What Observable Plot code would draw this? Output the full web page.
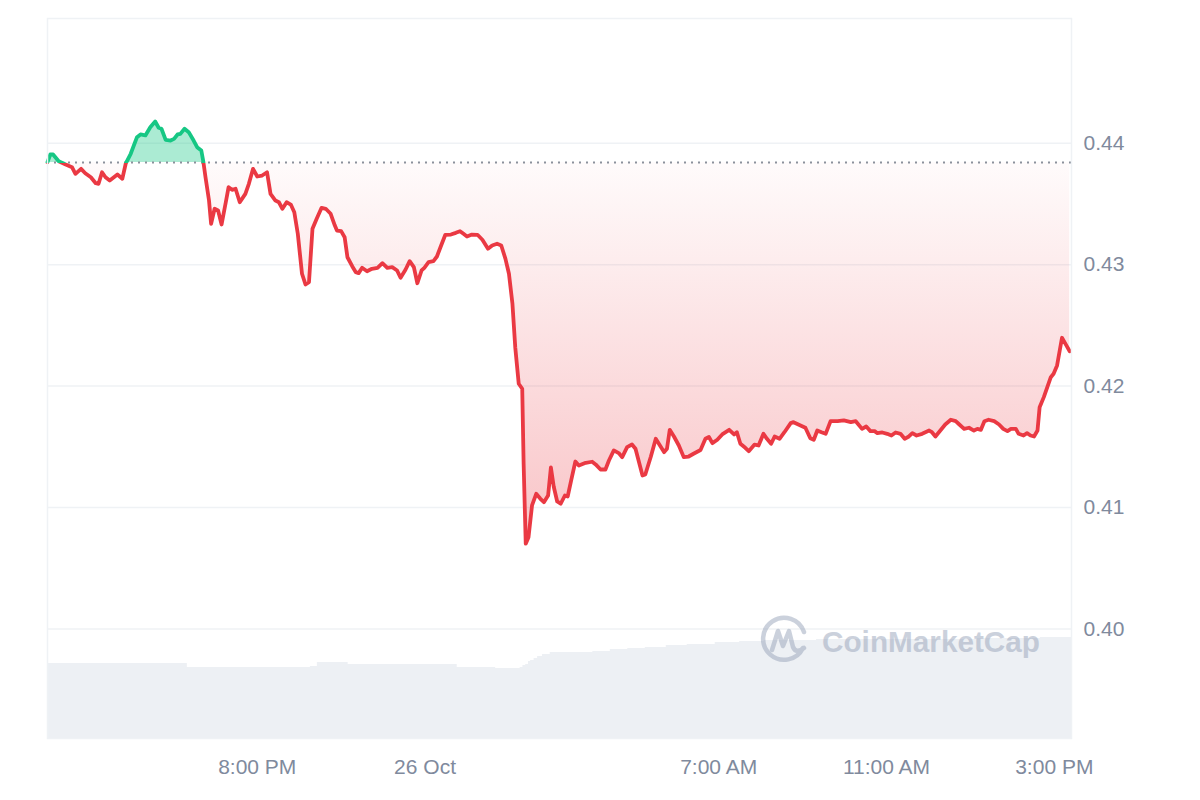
<!DOCTYPE html>
<html>
<head>
<meta charset="utf-8">
<script src="https://cdn.jsdelivr.net/npm/d3@7"></script>
<script src="https://cdn.jsdelivr.net/npm/@observablehq/plot@0.6"></script>
<style>
  html, body { margin: 0; padding: 0; background: #ffffff; }
  #wrap { position: relative; width: 1200px; height: 800px; overflow: hidden; }
  #chart { position: absolute; left: 0; top: 0; }
  #wm { position: absolute; left: 0; top: 0; pointer-events: none; }
</style>
</head>
<body>
<div id="wrap">
  <div id="chart"></div>
  <svg id="wm" width="1200" height="800" xmlns="http://www.w3.org/2000/svg">
    <g opacity="0.5" fill="none" stroke="#98a4ba" stroke-width="4.5" stroke-linecap="round" stroke-linejoin="round">
      <path d="M 803 648 A 21 21 0 1 1 804 632"/>
      <path d="M 772 650 L 778 631 L 783 646 L 789 631 L 793 647 Q 796 654 804 648"/>
    </g>
    <text x="822" y="641" dominant-baseline="central" textLength="218" lengthAdjust="spacingAndGlyphs"
          font-family="'Liberation Sans', Arial, sans-serif" font-weight="700" font-size="30"
          fill="#98a4ba" opacity="0.5">CoinMarketCap</text>
  </svg>
</div>
<script>
// ---- Data (minutes after 3:00 PM, 25 Oct; price in USD) ----
const priceSeries = [
  [0,0.43844],[4,0.43907],[8,0.43907],[16,0.43852],[26,0.43825],[35,0.43803],[40,0.43748],[48,0.43789],[54,0.43753],[62,0.43720],
  [69,0.43671],[73,0.43666],[78,0.43761],[83,0.43720],[89,0.43693],[100,0.43742],[107,0.43707],[112,0.43835],[119,0.43913],
  [128,0.44050],[133,0.44072],[140,0.44064],[147,0.44132],[154,0.44179],[159,0.44127],[163,0.44119],[169,0.44028],[176,0.44022],
  [181,0.44036],[186,0.44072],[190,0.44077],[196,0.44119],[202,0.44091],[209,0.44022],[214,0.43967],[220,0.43940],[223,0.43844],
  [226,0.43720],[231,0.43528],[234,0.43336],[239,0.43460],[244,0.43446],[249,0.43331],[255,0.43514],[259,0.43638],[264,0.43616],
  [269,0.43625],[275,0.43514],[283,0.43583],[288,0.43666],[294,0.43789],[300,0.43726],[307,0.43734],[314,0.43761],[319,0.43583],
  [326,0.43528],[331,0.43514],[336,0.43460],[342,0.43514],[348,0.43495],[353,0.43432],[358,0.43254],[364,0.42925],[369,0.42837],
  [374,0.42856],[379,0.43295],[385,0.43378],[392,0.43468],[398,0.43460],[405,0.43419],[411,0.43322],[414,0.43281],[420,0.43276],
  [425,0.43226],[429,0.43061],[436,0.42985],[441,0.42938],[445,0.42930],[450,0.42974],[457,0.42946],[464,0.42966],[472,0.42974],
  [479,0.43012],[486,0.42974],[493,0.42979],[500,0.42952],[505,0.42892],[512,0.42958],[518,0.43029],[524,0.42979],[529,0.42847],
  [535,0.42952],[539,0.42974],[545,0.43020],[552,0.43029],[557,0.43067],[563,0.43158],[569,0.43246],[577,0.43248],[584,0.43262],
  [590,0.43276],[595,0.43254],[600,0.43232],[607,0.43248],[615,0.43246],[622,0.43205],[630,0.43131],[636,0.43158],[643,0.43172],
  [649,0.43158],[655,0.43048],[660,0.42925],[665,0.42678],[669,0.42320],[674,0.42019],[679,0.41978],[681,0.41360],[684,0.40702],
  [688,0.40756],[693,0.41017],[699,0.41113],[705,0.41072],[710,0.41044],[716,0.41099],[720,0.41330],[724,0.41173],[729,0.41050],
  [734,0.41031],[740,0.41099],[744,0.41091],[749,0.41223],[755,0.41379],[760,0.41346],[768,0.41365],[779,0.41377],[784,0.41355],
  [791,0.41313],[798,0.41313],[803,0.41387],[810,0.41470],[817,0.41448],[822,0.41415],[829,0.41497],[836,0.41519],[841,0.41484],
  [851,0.41264],[855,0.41272],[863,0.41420],[870,0.41566],[876,0.41511],[882,0.41456],[886,0.41484],[890,0.41640],[896,0.41585],
  [903,0.41511],[910,0.41415],[917,0.41420],[924,0.41443],[934,0.41474],[941,0.41566],[946,0.41581],[951,0.41530],[958,0.41558],
  [965,0.41602],[975,0.41640],[982,0.41602],[986,0.41620],[991,0.41525],[998,0.41492],[1003,0.41464],[1011,0.41517],[1017,0.41511],
  [1024,0.41607],[1029,0.41566],[1035,0.41525],[1040,0.41585],[1047,0.41566],[1054,0.41620],[1063,0.41695],[1067,0.41703],
  [1077,0.41676],[1084,0.41657],[1091,0.41571],[1096,0.41558],[1101,0.41634],[1107,0.41620],[1113,0.41607],[1120,0.41711],
  [1130,0.41711],[1139,0.41717],[1149,0.41703],[1156,0.41711],[1165,0.41648],[1171,0.41667],[1177,0.41629],[1183,0.41629],
  [1187,0.41612],[1194,0.41618],[1201,0.41607],[1207,0.41593],[1213,0.41618],[1220,0.41607],[1226,0.41566],[1232,0.41585],
  [1237,0.41612],[1243,0.41593],[1251,0.41607],[1261,0.41634],[1265,0.41620],[1270,0.41585],[1277,0.41634],[1284,0.41684],
  [1292,0.41723],[1299,0.41711],[1303,0.41690],[1311,0.41648],[1318,0.41657],[1325,0.41634],[1330,0.41648],[1335,0.41640],
  [1340,0.41711],[1346,0.41723],[1354,0.41711],[1361,0.41684],[1367,0.41648],[1373,0.41629],[1378,0.41648],[1385,0.41648],
  [1389,0.41607],[1396,0.41593],[1401,0.41612],[1406,0.41593],[1411,0.41585],[1416,0.41634],[1419,0.41826],[1425,0.41909],
  [1430,0.41991],[1435,0.42073],[1439,0.42101],[1444,0.42170],[1451,0.42398],[1456,0.42348],[1462,0.42287]
];
// volume (relative units) per time step, minutes after 3:00 PM
const volumeSeries = [
  [0,7.5],[200,7.1],[376,7.2],[386,7.6],[430,7.4],[586,7.1],[641,7.0],[667,7.0],[676,7.1],[680,7.3],[684,7.4],[688,7.7],
  [691,7.8],[696,8.0],[701,8.2],[708,8.4],[719,8.6],[755,8.6],[780,8.7],[805,8.9],[830,9.0],[855,9.1],[885,9.3],[915,9.4],
  [955,9.6],[990,9.7],[1025,9.8],[1100,9.9],[1220,9.9],[1330,10.0],[1420,10.1],[1465,10.1]
];
const openPrice = 0.43841;                    // dotted reference line
const yTicks = [0.40, 0.41, 0.42, 0.43, 0.44];
const xTicks = [300, 540, 960, 1200, 1440];
const xTickLabels = ["8:00 PM", "26 Oct", "7:00 AM", "11:00 AM", "3:00 PM"];
const xDomain = [0, 1464.6];
const yDomain = [0.39098, 0.45027];
const volumeUnit = 0.0008234;                 // price-axis height of one volume unit (volume panel)

const RED = "#ea3943", GREEN = "#16c784", AXIS = "#808a9d", GRID = "#eff2f5";
const prices = priceSeries.map(([t, p]) => ({t, p}));
const vols = volumeSeries.map(([t, v]) => ({t, v}));

const chart = Plot.plot({
  width: 1200,
  height: 800,
  marginLeft: 47,
  marginRight: 129,
  marginTop: 18,
  marginBottom: 62,
  style: {fontFamily: "'Liberation Sans', Arial, sans-serif", background: "#ffffff", color: AXIS},
  x: {type: "linear", domain: xDomain},
  y: {type: "linear", domain: yDomain},
  marks: [
    Plot.gridY(yTicks, {stroke: GRID, strokeOpacity: 1, strokeWidth: 1.5}),
    Plot.areaY(vols, {x: "t", y1: () => yDomain[0], y2: d => yDomain[0] + d.v * volumeUnit,
      curve: "step-after", fill: "#edf0f4"}),
    Plot.areaY(prices, {x: "t", y1: () => openPrice, y2: d => Math.min(d.p, openPrice), fill: "url(#cmcRedFill)"}),
    Plot.areaY(prices, {x: "t", y1: () => openPrice, y2: d => Math.max(d.p, openPrice), fill: GREEN, fillOpacity: 0.36}),
    Plot.ruleY([openPrice], {stroke: "#8b919c", strokeWidth: 2, strokeDasharray: "2 5"}),
    Plot.line(prices, {x: "t", y: "p", stroke: "url(#cmcLine)", strokeWidth: 3.8, strokeLinejoin: "round", strokeLinecap: "round"}),
    Plot.frame({stroke: GRID, strokeWidth: 1.5}),
    Plot.axisY(yTicks, {anchor: "right", tickSize: 0, tickPadding: 12, fontSize: 21, fill: AXIS,
      tickFormat: d => d.toFixed(2), label: null}),
    Plot.axisX(xTicks, {anchor: "bottom", tickSize: 0, tickPadding: 21, fontSize: 21, fill: AXIS,
      tickFormat: d => xTickLabels[xTicks.indexOf(d)], label: null})
  ]
});

// gradients derived from the rendered y scale
const ys = chart.scale("y");
const yOpen = ys.apply(openPrice);
const yLow = ys.apply(d3.min(prices, d => d.p));
const defs = d3.select(chart).insert("defs", ":first-child");
const lg = defs.append("linearGradient").attr("id", "cmcLine").attr("gradientUnits", "userSpaceOnUse")
  .attr("x1", 0).attr("x2", 0).attr("y1", 0).attr("y2", 800);
lg.append("stop").attr("offset", yOpen / 800).attr("stop-color", GREEN);
lg.append("stop").attr("offset", yOpen / 800).attr("stop-color", RED);
const rf = defs.append("linearGradient").attr("id", "cmcRedFill").attr("gradientUnits", "userSpaceOnUse")
  .attr("x1", 0).attr("x2", 0).attr("y1", yOpen).attr("y2", yLow);
rf.append("stop").attr("offset", 0).attr("stop-color", RED).attr("stop-opacity", 0.02);
rf.append("stop").attr("offset", 1).attr("stop-color", RED).attr("stop-opacity", 0.3);

document.getElementById("chart").appendChild(chart);
</script>
</body>
</html>
